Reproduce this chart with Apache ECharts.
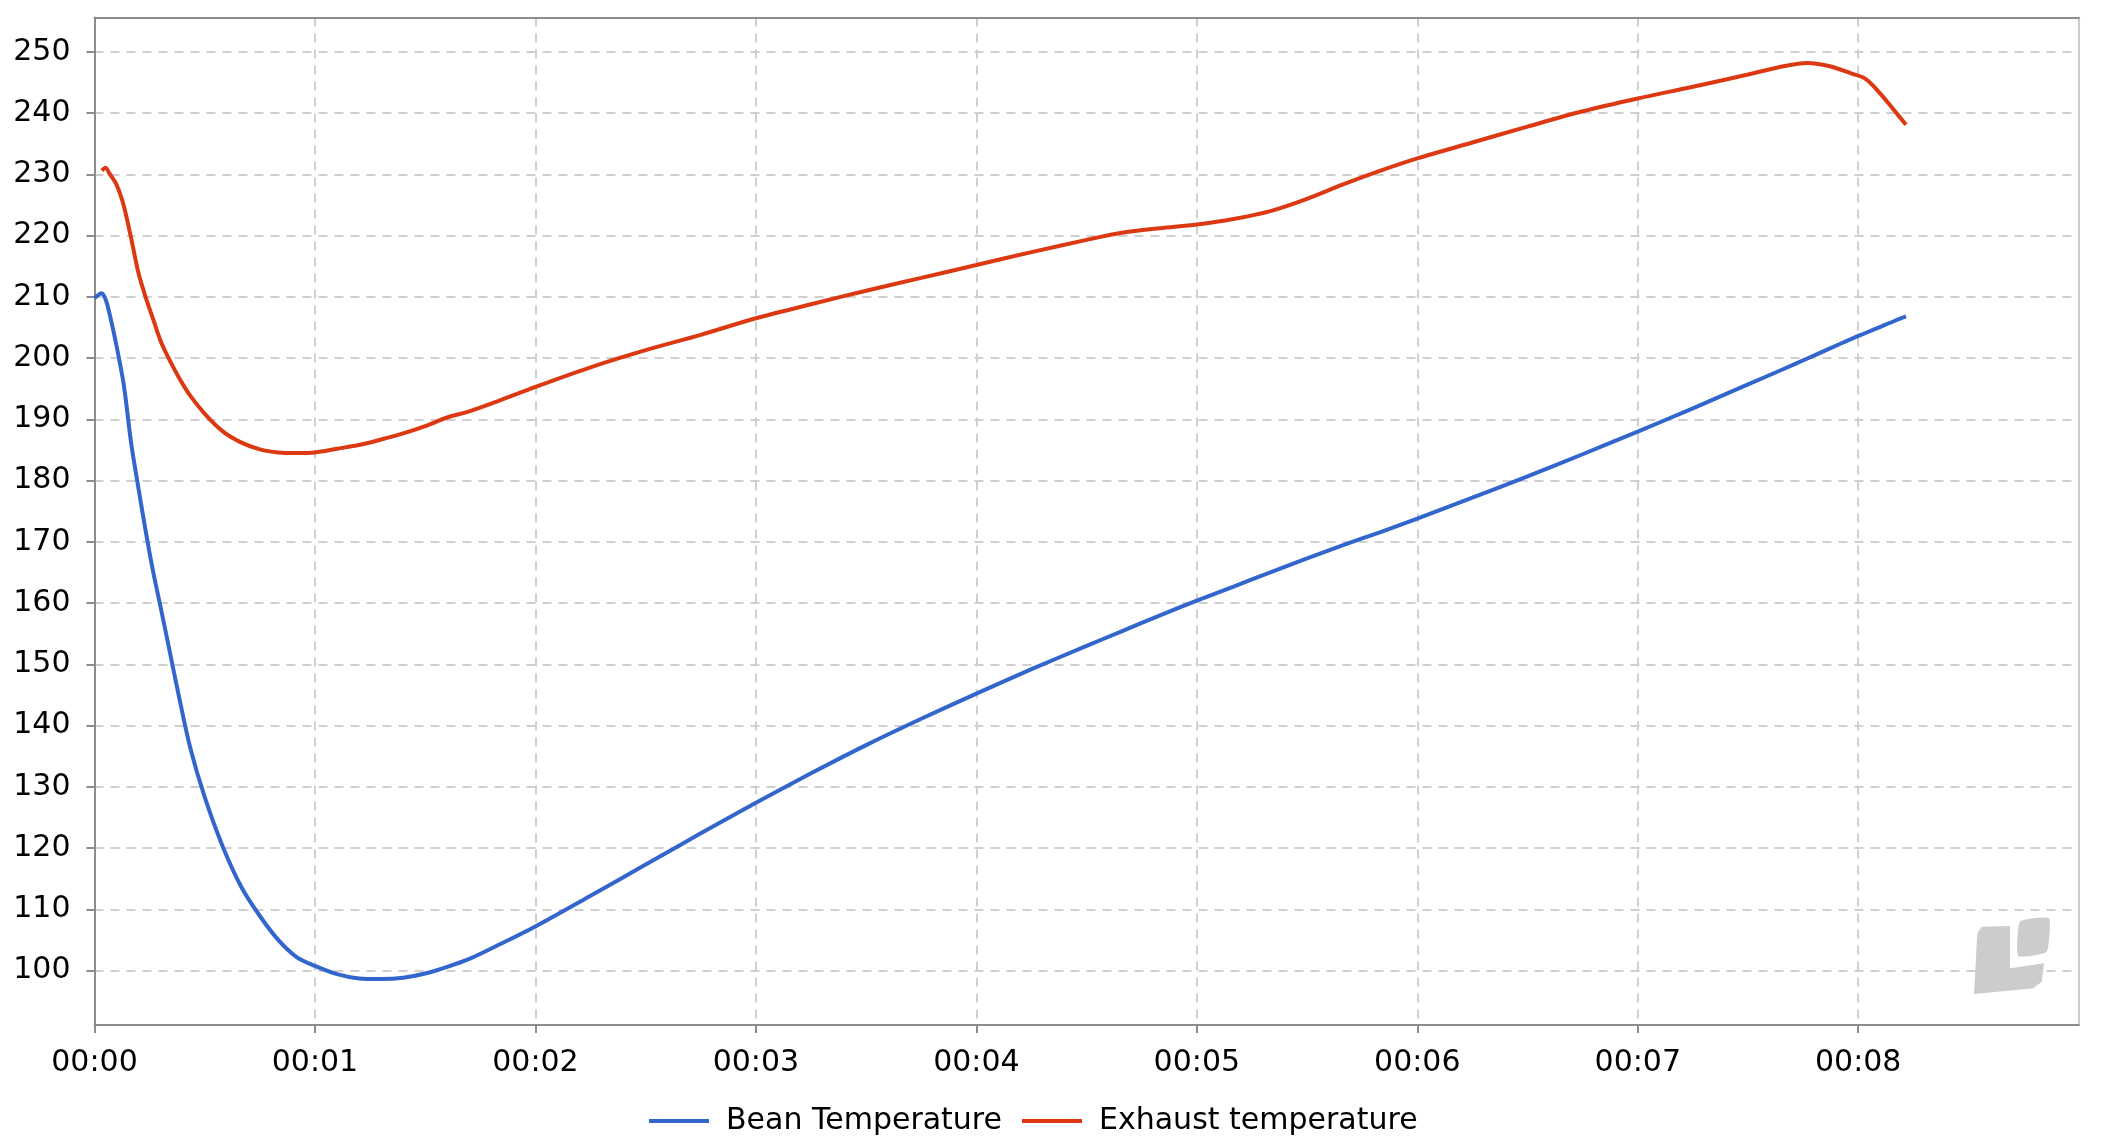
<!DOCTYPE html>
<html>
<head>
<meta charset="utf-8">
<script src="https://cdn.jsdelivr.net/npm/echarts@6/dist/echarts.min.js"></script>
<style>
html,body{margin:0;padding:0;background:#fff;}
#chart{width:2122px;height:1146px;}
</style>
</head>
<body>
<div id="chart"></div>
<script>
// elapsed time in seconds
const times = [0,2,3,4,6,8,10,12,14,16,18,20,23,26,30,35,40,45,50,55,60,66,72,78,84,90,96,102,110,120,135,150,165,180,195,210,225,240,255,270,280,290,300,310,320,330,340,350,360,375,390,405,420,435,450,460,466,472,478,482,486,490,493];
const beanTemperature = [209.8,210.6,209.6,207.5,202,195.5,186,178.6,171.5,165,159.3,153.5,144.7,136.5,128.3,120.1,113.6,108.9,105,102.2,100.75,99.4,98.7,98.6,98.8,99.5,100.6,101.9,104.2,107.2,112.2,117.3,122.4,127.4,132.2,136.8,141.1,145.2,149.2,153,155.5,158,160.4,162.7,165,167.3,169.5,171.6,173.8,177.2,180.7,184.3,188,191.8,195.7,198.3,199.9,201.5,203.1,204.1,205.1,206.1,206.8];
const exhaustTemperature = [null,230.6,231.1,230.2,228.3,224.8,219.5,213.8,209.8,206.3,202.8,200.2,196.8,193.9,190.9,188,186.2,185.1,184.6,184.5,184.6,185.2,185.8,186.7,187.7,188.9,190.3,191.3,193,195.3,198.5,201.3,203.8,206.5,208.8,211,213.1,215.2,217.3,219.3,220.5,221.2,221.8,222.7,224,226,228.4,230.6,232.6,235.2,237.8,240.3,242.4,244.3,246.3,247.7,248.2,247.7,246.5,245.6,243.2,240.3,238.1];
const xTicks = [0,60,120,180,240,300,360,420,480];
const yTicks = [100,110,120,130,140,150,160,170,180,190,200,210,220,230,240,250];
const seriesNames = ['Bean Temperature','Exhaust temperature'];

const pair = (vals) => times.map((t,i) => [t, vals[i]]);
const FONT = 'DejaVu Sans';
const axisGray = '#8c8c8c';
const gridStyle = {color:'#cfcfcf', width:2, type:[9,7]};

const chart = echarts.init(document.getElementById('chart'), null, {renderer:'canvas'});
chart.setOption({
  animation:false,
  backgroundColor:'#ffffff',
  textStyle:{fontFamily:FONT},
  grid:{left:94.5, right:43.3, top:17.6, bottom:121, containLabel:false},
  legend:{
    left:644, top:1101,
    icon:'rect', itemWidth:60, itemHeight:4, itemGap:20,
    textStyle:{fontFamily:FONT, fontSize:30, color:'#000', padding:[0,0,0,12]},
    data:seriesNames
  },
  xAxis:[{
    type:'value', min:0, max:540,
    axisLine:{show:true, onZero:false, lineStyle:{color:axisGray, width:2}},
    axisTick:{show:true, length:8, customValues:xTicks, lineStyle:{color:axisGray, width:2}},
    axisLabel:{fontFamily:FONT, fontSize:30, color:'#000', margin:23, customValues:xTicks,
      formatter:(v)=>'00:0'+Math.round(v/60)},
    splitLine:{show:true, lineStyle:gridStyle}
  },{
    type:'value', position:'top', min:0, max:540,
    axisLine:{show:true, onZero:false, lineStyle:{color:axisGray, width:2}},
    axisTick:{show:false}, axisLabel:{show:false}, splitLine:{show:false}
  }],
  yAxis:[{
    type:'value', min:91.1, max:255.6,
    axisLine:{show:true, onZero:false, lineStyle:{color:axisGray, width:2}},
    axisTick:{show:true, length:8, customValues:yTicks, lineStyle:{color:axisGray, width:2}},
    axisLabel:{fontFamily:FONT, fontSize:30, color:'#000', margin:24, customValues:yTicks},
    splitLine:{show:true, lineStyle:gridStyle}
  },{
    type:'value', position:'right', min:91.1, max:255.6,
    axisLine:{show:true, onZero:false, lineStyle:{color:'#cccccc', width:2}},
    axisTick:{show:false}, axisLabel:{show:false}, splitLine:{show:false}
  }],
  series:[
    {name:seriesNames[0], type:'line', data:pair(beanTemperature), showSymbol:false, symbol:'none',
     smooth:0.3, connectNulls:false, color:'#3366cc', lineStyle:{color:'#3366cc', width:4}},
    {name:seriesNames[1], type:'line', data:pair(exhaustTemperature), showSymbol:false, symbol:'none',
     smooth:0.3, connectNulls:false, color:'#dc3912', lineStyle:{color:'#dc3912', width:4}}
  ],
  graphic:[
    {type:'polygon', silent:true, z:-1,
     shape:{points:[[2020,921.7],[2049,918.3],[2046.7,951.7],[2018.3,956]], smooth:0.15},
     style:{fill:'#cccccc'}},
    {type:'polygon', silent:true, z:-1,
     shape:{points:[[1981.7,926.7],[2010,926],[2010,968.3],[2044,963.3],[2041.7,981.7],[2033.3,988.3],[1974,994],[1977.3,933.3]]},
     style:{fill:'#cccccc'}}
  ]
});
</script>
</body>
</html>
